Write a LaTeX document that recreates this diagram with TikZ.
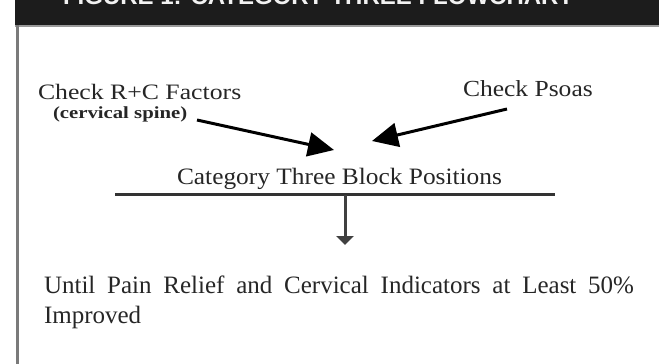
\documentclass[tikz,border=0pt]{standalone}
\usepackage{fontspec}
\setmainfont{Liberation Serif}
\newfontfamily\hdrfont{Liberation Sans}
\usetikzlibrary{arrows.meta}
\definecolor{hdrbg}{HTML}{1C1C1C}
\definecolor{txt}{HTML}{262626}
\definecolor{rule}{HTML}{7A7A7A}
\tikzset{
  lbl/.style={anchor=base west, inner sep=0pt, outer sep=0pt, text=txt},
  bigarrow/.style={line width=3pt, black, -{Triangle[length=26pt,width=24pt]}},
  smallarrow/.style={line width=3pt, color=black!75, -{Triangle[length=9pt,width=17pt]}},
  hline/.style={line width=3pt, color=black!80},
}
\begin{document}
\begin{tikzpicture}[x=1pt,y=-1pt]
\useasboundingbox (0,0) rectangle (659,364);
\clip (0,0) rectangle (659,364);
% header band
\fill[hdrbg] (15,-5) rectangle (659,25);
\fill[black!40] (15,25) rectangle (659,26.5);
\node[lbl, text=white!95!black] (title) at (63,5)
  {\hdrfont\bfseries\fontsize{24}{28}\selectfont FIGURE 1: CATEGORY THREE FLOWCHART};
% left frame line
\draw[line width=3pt, rule] (17.5,25) -- (17.5,370);
% texts
\node[lbl] (rc) at (38,99) {\scalebox{1.17}[1]{\fontsize{22}{26}\selectfont Check R+C Factors}};
\node[lbl] (cs) at (53,118) {\scalebox{1.22}[1]{\fontsize{17}{20}\selectfont\bfseries (cervical spine)}};
\node[lbl] (ps) at (463,96) {\scalebox{1.11}[1]{\fontsize{23}{27}\selectfont Check Psoas}};
\node[lbl] (cat) at (177,184) {\scalebox{1.08}[1]{\fontsize{23.5}{27}\selectfont Category Three Block Positions}};
\node[lbl] (until) at (44,293) {\fontsize{25}{29}\selectfont\makebox[590pt][s]{Until Pain Relief and Cervical Indicators at Least 50\%}};
\node[lbl] (impr) at (44,323) {\fontsize{25}{29}\selectfont Improved};
% connectors
\coordinate (csEnd) at (197,120);
\coordinate (tipL) at (334,150);
\coordinate (psEnd) at (507,109);
\coordinate (tipR) at (372,141);
\coordinate (barL) at (115,194.5);
\coordinate (barR) at (555,194.5);
\coordinate (barM) at (345,194.5);
\coordinate (tipD) at (345,245);
\draw[bigarrow] (csEnd) -- (tipL);
\draw[bigarrow] (psEnd) -- (tipR);
\draw[hline] (barL) -- (barR);
\draw[smallarrow] (barM) -- (tipD);
\end{tikzpicture}
\end{document}
